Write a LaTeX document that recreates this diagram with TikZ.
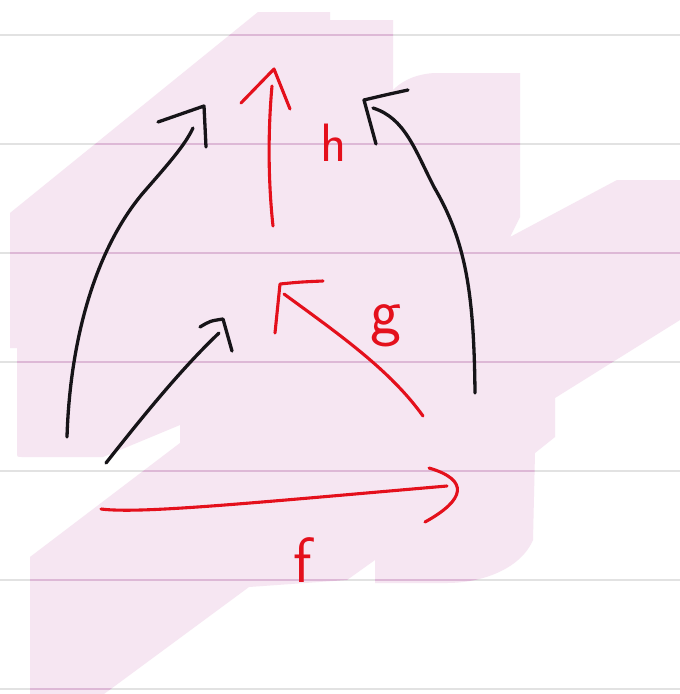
\documentclass[tikz,border=0pt]{standalone}
\definecolor{pinkhl}{RGB}{246,230,242}
\definecolor{ruleout}{RGB}{226,226,226}
\definecolor{rulein}{RGB}{221,184,214}
\definecolor{inkblack}{RGB}{22,20,24}
\definecolor{inkred}{RGB}{228,16,28}
\begin{document}
\begin{tikzpicture}[x=1pt,y=-1pt,
  blk/.style={line width=3.3pt, draw=inkblack, line cap=round, line join=round},
  rdk/.style={line width=3.1pt, draw=inkred, line cap=round, line join=round},
  lbl/.style={text=inkred, font=\sffamily, inner sep=0pt, anchor=base},
  rulestyle/.style={line width=2.6pt}]
\useasboundingbox (0,0) rectangle (680,694);
\fill[white] (0,0) rectangle (680,694);
\def\pinkshape{(258,12) -- (330,12) -- (330,20) -- (393,20) -- (393,90)
  .. controls (405,78) and (420,74) .. (434,73) -- (520,73) -- (520,217)
  -- (510,237) -- (617,180) -- (680,180) -- (680,320) -- (555,398)
  -- (555,437) -- (535,453) -- (533,540)
  .. controls (520,570) and (480,583) .. (447,583) -- (375,583) -- (375,560)
  -- (347,580) -- (249,587) -- (104,694) -- (30,694) -- (30,557)
  -- (180,443) -- (180,425) -- (103,457) -- (22,457)
  .. controls (17,457) .. (17,452) -- (17,348) -- (10,348) -- (10,213) -- cycle}
\fill[pinkhl] \pinkshape;
\foreach \yy in {35,144,253,362,471,580,689}
  \draw[rulestyle, ruleout] (0,\yy) -- (680,\yy);
\begin{scope}
  \clip \pinkshape;
  \foreach \yy in {35,144,253,362,471,580,689}
    \draw[rulestyle, rulein] (0,\yy) -- (680,\yy);
\end{scope}

% left long black arrow
\coordinate (la0) at (67,437);
\coordinate (la1) at (193,128);
\coordinate (lat) at (204,106);
\draw[blk] (la0) .. controls (70,340) and (95,250) .. (143,193)
  .. controls (170,162) and (185,145) .. (la1);
\draw[blk] (158,122) -- (lat) -- (206,147);

% short black arrow
\coordinate (sa0) at (106,463);
\coordinate (sa1) at (219,333);
\coordinate (sat) at (223,319);
\draw[blk] (sa0) .. controls (140,420) and (180,370) .. (sa1);
\draw[blk] (200,327) .. controls (210,321) .. (sat) -- (232,351);

% right long black arrow
\coordinate (ra0) at (475,393);
\coordinate (ra1) at (373,108);
\coordinate (rat) at (364,100);
\draw[blk] (ra0) .. controls (474,290) and (465,240) .. (434,187)
  .. controls (415,150) and (405,118) .. (ra1);
\draw[blk] (408,90) .. controls (385,95) .. (rat) -- (376,144);

% red h arrow
\coordinate (h0) at (273,226);
\coordinate (h1) at (272,86);
\draw[rdk] (h0) .. controls (268,180) and (268,130) .. (h1);
\draw[rdk] (241,103) -- (274,69) -- (290,109);
\node[lbl, font=\sffamily\fontsize{54}{54}\selectfont] (hl) at (334,161) {h};

% red g arrow
\coordinate (g0) at (423,416);
\coordinate (g1) at (284,294);
\draw[rdk] (g0) .. controls (390,370) and (340,335) .. (g1);
\draw[rdk] (323,281) .. controls (300,282) .. (280,284) -- (275,333);
\node[lbl, font=\sffamily\fontsize{66}{66}\selectfont] (gl) at (386,333) {g};

% red f arrow
\coordinate (f0) at (101,509);
\coordinate (f1) at (447,486);
\draw[rdk] (f0) .. controls (140,514) and (250,503) .. (f1);
\draw[rdk] (429,468) .. controls (470,480) and (465,500) .. (425,522);
\node[lbl, font=\sffamily\fontsize{64}{64}\selectfont] (fl) at (303,582) {f};
\end{tikzpicture}
\end{document}
